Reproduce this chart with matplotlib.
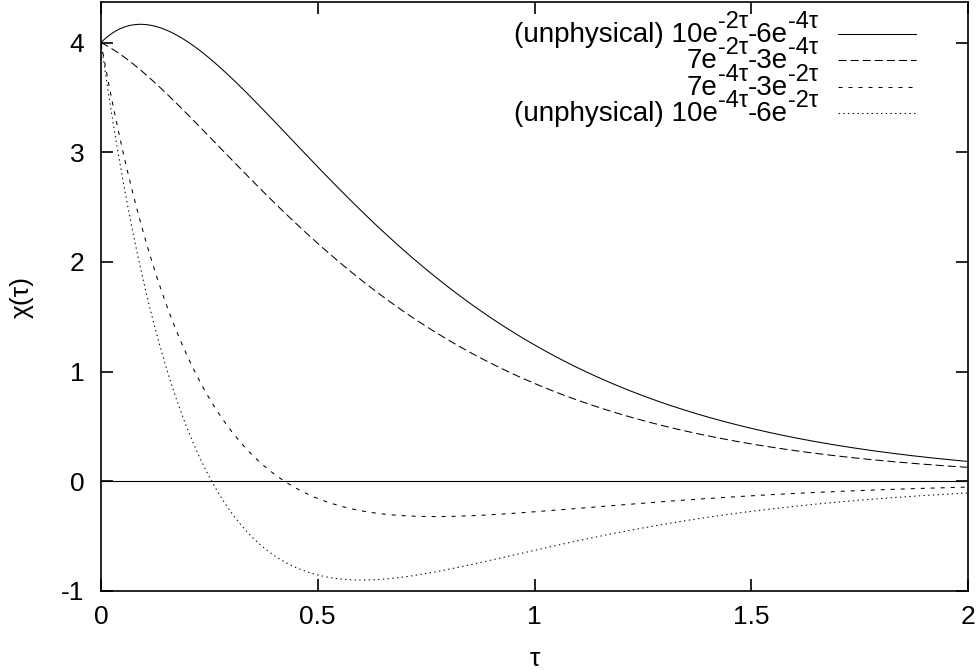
import re
import numpy as np
import matplotlib
matplotlib.use("Agg")
import matplotlib.pyplot as plt

plt.rcParams["font.family"] = ["Liberation Sans", "DejaVu Sans"]
plt.rcParams["axes.unicode_minus"] = False
plt.rcParams["lines.scale_dashes"] = False

# curves: a*exp(-r1*tau) - b*exp(-r2*tau), coefficients
labels = [
    "(unphysical) 10e^{-2τ}-6e^{-4τ}",
    "7e^{-2τ}-3e^{-4τ}",
    "7e^{-4τ}-3e^{-2τ}",
    "(unphysical) 10e^{-4τ}-6e^{-2τ}",
]
amp_a = [10, 7, 7, 10]
rate_a = [2, 2, 4, 4]
amp_b = [6, 3, 3, 6]
rate_b = [4, 4, 2, 2]

x_ticks = [0, 0.5, 1, 1.5, 2]
x_tick_labels = ["0", "0.5", "1", "1.5", "2"]
y_ticks = [-1, 0, 1, 2, 3, 4]

styles = ["-", (0, (5.8, 2.9)), (0, (2.9, 4.3)), (0, (1.0, 2.4))]
FS = 19
KEY_FS = 20
SUP = 0.85
W, H = 978, 672

tau = np.linspace(0, 2, 600)

fig = plt.figure(figsize=(W / 100, H / 100), dpi=100)
ax = fig.add_axes([101 / W, 1 - 591 / H, 867 / W, 589 / H])
renderer = fig.canvas.get_renderer()

ax.axhline(0, color="black", lw=0.8)


def key_text(label, x_right, y_base):
    # gnuplot-style enhanced text: draw pieces right to left, superscripts raised
    parts = re.split(r"\^\{([^}]*)\}", label)
    pieces = [(p, i % 2 == 1) for i, p in enumerate(parts) if p]
    x = x_right
    for text, sup in reversed(pieces):
        size = KEY_FS * SUP if sup else KEY_FS
        rise = KEY_FS * 0.5 * 100 / 72 if sup else 0
        t = fig.text(x / W, 1 - (y_base - rise) / H, text, ha="right",
                     va="baseline", fontsize=size)
        x -= t.get_window_extent(renderer).width


legend_y = [34, 60, 87, 113]  # pixel rows of the key entries
for i in range(4):
    chi = amp_a[i] * np.exp(-rate_a[i] * tau) - amp_b[i] * np.exp(-rate_b[i] * tau)
    ax.plot(tau, chi, color="black", lw=0.75, linestyle=styles[i])

    yf = 1 - legend_y[i] / H
    ax.plot([838 / W, 916 / W], [yf, yf], color="black", lw=0.75,
            linestyle=styles[i], transform=fig.transFigure, clip_on=False)
    key_text(labels[i], 818, legend_y[i] + 8)

ax.set_xlim(0, 2)
ax.set_ylim(-1, 4.37)
ax.set_xticks(x_ticks)
ax.set_xticklabels(x_tick_labels)
ax.set_yticks(y_ticks)

ax.tick_params(direction="in", length=8.6, width=1.2, top=True, right=True,
               labelsize=FS)
ax.tick_params(axis="x", pad=10)
ax.tick_params(axis="y", pad=12)
for s in ax.spines.values():
    s.set_linewidth(1.2)

ax.set_xlabel("τ", fontsize=FS, va="center")
ax.xaxis.set_label_coords(0.5, -0.116)
ax.set_ylabel("χ(τ)", fontsize=FS, va="center")
ax.yaxis.set_label_coords(-0.092, 0.5)

fig.savefig("out.png", dpi=100)
